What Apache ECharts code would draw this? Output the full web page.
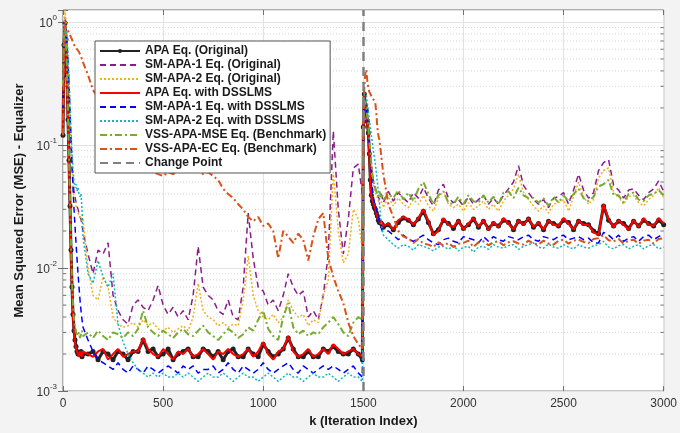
<!DOCTYPE html>
<html>
<head>
<meta charset="utf-8">
<script src="https://cdn.jsdelivr.net/npm/echarts@6/dist/echarts.min.js"></script>
<style>
  html, body { margin: 0; padding: 0; background: #f3f3f3; }
  #chart { width: 680px; height: 433px; }
</style>
</head>
<body>
<div id="chart"></div>
<script>
// iteration grid: fine steps around the two transients, coarser elsewhere
var kSegments = [[0, 100, 5], [125, 1475, 25], [1495, 1495, 1], [1500, 1600, 5], [1625, 3000, 25]];
var changePoint = 1500;

// MSE values, in units of 1e-4
// each array: k=0..100 (21) | k=125..1475 + 1495 (56) | k=1500..1600 (21) | k=1625..3000 (56)
var apaOrig = [
  1200, 6500, 9800, 7200, 3700, 1600, 750, 320, 140, 70, 42, 31, 26, 23, 21, 20, 20, 20, 21, 19, 20,
  20, 21, 18, 21, 20, 18, 21, 20, 18, 21,
  21, 26, 21, 22, 19, 20, 22, 18, 20, 21,
  22, 19, 19, 22, 21, 19, 21, 18, 21, 22,
  19, 19, 22, 20, 19, 24, 21, 19, 20, 22,
  27, 22, 19, 19, 21, 19, 19, 22, 21, 23,
  21, 20, 20, 22, 20, 18,
  1400, 2600, 2100, 1900, 1550, 1250, 850, 520, 390, 350, 330, 310, 300, 280, 265, 245, 235, 235, 230, 225, 215,
  225, 205, 235, 255, 245, 225, 250, 290, 235, 190,
  205, 245, 230, 210, 240, 210, 225, 250, 215, 240,
  210, 230, 220, 245, 235, 205, 240, 230, 250, 215,
  230, 205, 240, 230, 220, 245, 235, 205, 240, 230,
  225, 200, 190, 320, 245, 220, 240, 230, 210, 240,
  220, 245, 230, 220, 245, 225
];
var smApa1Orig = [
  3000, 9000, 11000, 9500, 7000, 4500, 2800, 1700, 1000, 700, 500, 420, 380, 340, 320, 300, 280, 260, 250, 220, 200,
  130, 90, 140, 130, 160, 60, 45, 38, 35, 50,
  55, 48, 45, 55, 72, 50, 42, 48, 40, 45,
  38, 60, 150, 70, 60, 55, 45, 42, 55, 40,
  38, 70, 280, 120, 70, 65, 50, 55, 45, 60,
  90, 70, 60, 65, 40, 45, 38, 60, 130, 1300,
  300, 130, 250, 650, 700, 400,
  1500, 2400, 2200, 2000, 1700, 1400, 1100, 850, 700, 580, 520, 480, 440, 420, 400, 380, 360, 380, 400, 370, 340,
  420, 350, 410, 370, 340, 410, 370, 450, 370, 320,
  430, 480, 370, 340, 360, 320, 380, 330, 360, 390,
  330, 370, 330, 390, 440, 500, 680, 470, 410, 360,
  330, 360, 310, 370, 380, 410, 330, 430, 580, 430,
  370, 410, 620, 720, 760, 470, 430, 370, 430, 440,
  390, 360, 410, 440, 510, 420
];
var smApa2Orig = [
  3000, 10000, 12500, 10000, 7000, 4500, 2800, 1700, 1000, 650, 450, 380, 340, 320, 300, 280, 270, 260, 250, 240, 250,
  100, 60, 55, 85, 70, 40, 35, 33, 34, 36,
  33, 38, 34, 36, 32, 31, 33, 30, 32, 34,
  31, 40, 75, 45, 40, 38, 34, 36, 33, 35,
  34, 55, 125, 60, 45, 40, 38, 42, 36, 40,
  55, 45, 40, 42, 34, 38, 36, 60, 80, 600,
  200, 110, 130, 300, 250, 140,
  1400, 2300, 2100, 1900, 1600, 1300, 1000, 800, 650, 540, 480, 440, 410, 390, 370, 350, 330, 350, 360, 340, 310,
  380, 320, 370, 330, 310, 360, 330, 390, 320, 290,
  370, 420, 330, 310, 330, 290, 340, 300, 320, 350,
  300, 330, 290, 350, 390, 440, 580, 410, 360, 320,
  290, 320, 280, 330, 340, 360, 290, 380, 500, 380,
  330, 360, 540, 620, 650, 410, 380, 330, 380, 390,
  340, 320, 360, 390, 450, 370
];
var apaDss = [
  1200, 6000, 9500, 7000, 3500, 1500, 700, 300, 130, 65, 40, 30, 25, 22, 21, 20, 19, 21, 20, 19, 21,
  20, 19, 21, 22, 18, 20, 22, 19, 20, 21,
  21, 27, 22, 20, 19, 22, 20, 18, 21, 20,
  22, 19, 20, 22, 20, 18, 21, 20, 22, 20,
  19, 20, 22, 19, 21, 25, 20, 18, 21, 22,
  28, 21, 19, 20, 22, 19, 20, 22, 20, 24,
  22, 20, 21, 22, 20, 19,
  1500, 2500, 2000, 1800, 1500, 1200, 800, 500, 380, 360, 340, 320, 300, 290, 260, 250, 240, 230, 240, 230, 220,
  230, 205, 245, 260, 250, 225, 255, 300, 240, 185,
  200, 255, 225, 215, 245, 205, 230, 255, 215, 245,
  205, 235, 215, 255, 230, 205, 245, 225, 255, 215,
  235, 205, 245, 225, 220, 255, 230, 205, 245, 225,
  225, 195, 185, 330, 250, 215, 245, 225, 205, 245,
  215, 255, 225, 220, 255, 230
];
var smApa1Dss = [
  2000, 7000, 9000, 8500, 6500, 4500, 3000, 1800, 1100, 700, 450, 300, 220, 160, 120, 90, 70, 55, 45, 38, 33,
  26, 21, 18, 17, 16, 15, 17, 15, 14, 16,
  15, 14, 16, 15, 14, 15, 16, 15, 14, 16,
  15, 16, 14, 15, 15, 16, 14, 15, 17, 15,
  14, 16, 15, 14, 15, 17, 15, 14, 15, 16,
  17, 15, 14, 16, 15, 14, 15, 16, 15, 16,
  15, 14, 15, 16, 14, 13,
  1500, 2300, 2100, 1900, 1600, 1300, 1000, 800, 600, 450, 380, 340, 320, 300, 280, 260, 240, 220, 210, 200, 195,
  200, 185, 170, 185, 170, 165, 175, 185, 170, 160,
  155, 170, 175, 165, 160, 180, 175, 170, 160, 180,
  165, 180, 170, 165, 180, 175, 170, 180, 185, 170,
  165, 180, 175, 170, 180, 185, 170, 175, 180, 170,
  175, 160, 160, 195, 185, 170, 185, 165, 175, 180,
  165, 180, 185, 170, 180, 190
];
var smApa2Dss = [
  3000, 8000, 9500, 9000, 7500, 5500, 3500, 2200, 1300, 900, 650, 500, 450, 480, 420, 450, 400, 380, 400, 300, 180,
  90, 75, 115, 85, 70, 90, 35, 25, 20, 17,
  15, 14, 13, 14, 13, 14, 13, 13, 14, 13,
  14, 13, 12, 13, 14, 13, 13, 14, 13, 12,
  13, 14, 13, 13, 12, 13, 14, 13, 12, 13,
  14, 13, 13, 12, 13, 14, 13, 13, 14, 13,
  12, 13, 14, 13, 13, 12,
  1800, 2700, 2800, 2500, 2200, 1900, 1600, 1400, 1200, 1050, 900, 800, 700, 600, 500, 420, 350, 280, 230, 200, 185,
  170, 155, 145, 155, 150, 140, 155, 150, 145, 138,
  148, 150, 142, 152, 138, 148, 150, 135, 148, 150,
  142, 155, 148, 145, 152, 155, 142, 150, 155, 160,
  148, 145, 157, 148, 145, 155, 148, 143, 155, 148,
  145, 152, 155, 165, 148, 143, 152, 155, 143, 150,
  155, 143, 152, 155, 143, 148
];
var vssMse = [
  3000, 8000, 9000, 7000, 4000, 1800, 800, 350, 150, 80, 50, 38, 33, 30, 29, 28, 30, 27, 29, 31, 28,
  30, 27, 31, 28, 26, 30, 29, 27, 30, 28,
  32, 45, 33, 30, 28, 31, 29, 27, 30, 32,
  29, 28, 31, 34, 30, 28, 26, 29, 32, 30,
  27, 29, 33, 31, 38, 45, 32, 28, 26, 40,
  52, 33, 29, 31, 28, 30, 29, 33, 36, 40,
  35, 30, 28, 36, 40, 38,
  1500, 2300, 2200, 2000, 1700, 1400, 1100, 900, 700, 600, 500, 480, 450, 420, 400, 380, 420, 400, 370, 390, 360,
  400, 370, 430, 360, 410, 350, 440, 500, 400, 330,
  390, 420, 340, 330, 380, 330, 390, 350, 340, 390,
  340, 380, 330, 410, 420, 370, 450, 390, 370, 370,
  340, 370, 320, 380, 340, 390, 350, 400, 440, 370,
  350, 380, 460, 480, 520, 390, 390, 340, 400, 410,
  360, 350, 390, 400, 430, 390
];
var vssEc = [
  1200, 8500, 9300, 9100, 8800, 8500, 8200, 7900, 7500, 7200, 6800, 6600, 6300, 6100, 6000, 5800, 5700, 5500, 5200, 5000, 4700,
  3700, 2800, 2400, 2100, 1800, 1550, 1350, 1150, 1000, 880,
  780, 700, 640, 600, 580, 560, 600, 580, 620, 640,
  600, 660, 620, 580, 600, 560, 520, 440, 400, 370,
  330, 300, 260, 240, 260, 220, 230, 200, 120, 200,
  180, 160, 190, 170, 115, 180, 250, 280, 120, 85,
  65, 52, 36, 28, 24, 22,
  1500, 3000, 3800, 4100, 3300, 2900, 2700, 2600, 2500, 2400, 2400, 2300, 2200, 1800, 1400, 1200, 1100, 950, 800, 680, 580,
  330, 260, 200, 180, 175, 160, 172, 158, 155, 148,
  162, 152, 160, 148, 157, 160, 167, 148, 162, 165,
  153, 162, 165, 153, 162, 165, 158, 155, 167, 158,
  155, 167, 158, 155, 167, 170, 158, 167, 170, 163,
  160, 172, 175, 185, 168, 165, 172, 158, 167, 170,
  158, 167, 170, 158, 172, 175
];

var yMin = 0.001, yMax = 1.25;

var k = [];
kSegments.forEach(function (s) {
  for (var v = s[0]; v <= s[1]; v += s[2]) k.push(v);
});

// minor log positions 2..9 per decade (for dotted grid + inner ticks)
var minorTicks = [];
[0.001, 0.01, 0.1].forEach(function (d) {
  for (var m = 2; m <= 9; m++) minorTicks.push(m * d);
});

function pairs(vals) {
  return k.map(function (x, i) { return [x, vals[i] * 1e-4]; });
}

var font = 'Liberation Sans, Arial, Helvetica, sans-serif';
var frameColor = '#6e6e6e';

function lineSeries(name, vals, color, width, type) {
  return {
    name: name, type: 'line', data: pairs(vals), symbol: 'none', color: color,
    lineStyle: { color: color, width: width, type: type }, z: 3
  };
}

var series = [
  {
    name: 'APA Eq. (Original)', type: 'line', data: pairs(apaOrig), color: '#222',
    symbol: 'circle', symbolSize: 5, showSymbol: true,
    itemStyle: { color: '#222' }, lineStyle: { color: '#222', width: 3 }, z: 2
  },
  lineSeries('SM-APA-1 Eq. (Original)', smApa1Orig, '#8b1c8b', 1.5, [6, 4]),
  lineSeries('SM-APA-2 Eq. (Original)', smApa2Orig, '#f0b020', 1.5, [2, 2]),
  lineSeries('APA Eq. with DSSLMS', apaDss, '#ff0000', 2, 'solid'),
  lineSeries('SM-APA-1 Eq. with DSSLMS', smApa1Dss, '#0000ff', 1.5, [6, 4]),
  lineSeries('SM-APA-2 Eq. with DSSLMS', smApa2Dss, '#12b4bf', 1.5, [2, 2]),
  lineSeries('VSS-APA-MSE Eq. (Benchmark)', vssMse, '#77ac30', 2, [7, 3, 2, 3]),
  lineSeries('VSS-APA-EC Eq. (Benchmark)', vssEc, '#d95319', 2, [7, 3, 2, 3]),
  {
    name: 'Change Point', type: 'line', data: [], symbol: 'none', color: '#808080',
    lineStyle: { color: '#808080', width: 2, type: [8, 5] },
    markLine: {
      silent: true, symbol: 'none', label: { show: false },
      lineStyle: { color: '#808080', width: 2.5, type: [9, 6] },
      data: [{ xAxis: changePoint }]
    },
    z: 4
  },
  {
    type: 'custom', silent: true, z: 1,
    data: minorTicks.map(function (v) { return [0, v]; }),
    renderItem: function (params, api) {
      var y = api.coord([0, api.value(1)])[1];
      var x0 = params.coordSys.x, x1 = x0 + params.coordSys.width;
      return {
        type: 'group', children: [
          { type: 'line', shape: { x1: x0, y1: y, x2: x1, y2: y }, style: { stroke: '#d6d6d6', lineWidth: 1, lineDash: [1, 2] } },
          { type: 'line', shape: { x1: x0, y1: y, x2: x0 + 3, y2: y }, style: { stroke: frameColor, lineWidth: 1 } },
          { type: 'line', shape: { x1: x1 - 3, y1: y, x2: x1, y2: y }, style: { stroke: frameColor, lineWidth: 1 } }
        ]
      };
    }
  }
];

var legendData = series.slice(0, 9).map(function (s, i) {
  return i === 0 ? { name: s.name, itemStyle: { opacity: 1 } } : { name: s.name };
});

var option = {
  animation: false,
  backgroundColor: '#f3f3f3',
  textStyle: { fontFamily: font },
  grid: {
    left: 63, right: 14, top: 10, bottom: 40,
    show: true, backgroundColor: '#ffffff', borderColor: frameColor, borderWidth: 1
  },
  legend: {
    data: legendData,
    orient: 'vertical', left: 95, top: 41,
    backgroundColor: '#ffffff', borderColor: '#555', borderWidth: 1, borderRadius: 0,
    padding: [4, 4, 4, 4], itemWidth: 40, itemHeight: 5, itemGap: 2,
    itemStyle: { opacity: 0 },
    textStyle: { fontFamily: font, fontSize: 12, fontWeight: 'bold', color: '#1a1a1a', lineHeight: 12 }
  },
  xAxis: [
    {
      type: 'value', min: 0, max: 3000, interval: 500, position: 'bottom',
      name: 'k (Iteration Index)', nameLocation: 'middle', nameGap: 23,
      nameTextStyle: { fontFamily: font, fontSize: 13, fontWeight: 'bold', color: '#1a1a1a' },
      axisLine: { show: false },
      axisTick: { inside: true, length: 5, lineStyle: { color: frameColor } },
      axisLabel: {
        fontFamily: font, fontSize: 12, color: '#333', margin: 7,
        formatter: function (v) { return String(v); }
      },
      splitLine: { show: true, lineStyle: { color: '#e2e2e2' } }
    },
    {
      type: 'value', min: 0, max: 3000, interval: 500, position: 'top',
      axisLine: { show: false },
      axisTick: { inside: true, length: 5, lineStyle: { color: frameColor } },
      axisLabel: { show: false }, splitLine: { show: false }
    }
  ],
  yAxis: [
    {
      type: 'log', logBase: 10, min: yMin, max: yMax, position: 'left',
      name: 'Mean Squared Error (MSE) - Equalizer', nameLocation: 'middle', nameGap: 34, nameRotate: 90,
      nameTextStyle: { fontFamily: font, fontSize: 13, fontWeight: 'bold', color: '#1a1a1a' },
      axisLine: { show: false },
      axisTick: { inside: true, length: 5, lineStyle: { color: frameColor } },
      axisLabel: {
        margin: 6, color: '#333', fontFamily: font,
        formatter: function (v) {
          var lg = Math.log(v) / Math.LN10, e = Math.round(lg);
          if (Math.abs(lg - e) > 1e-6) return '';
          return '{b|10}{s|' + e + '}';
        },
        rich: {
          b: { fontFamily: font, fontSize: 12, color: '#333', lineHeight: 16, verticalAlign: 'bottom' },
          s: { fontFamily: font, fontSize: 8, color: '#333', lineHeight: 16, verticalAlign: 'top' }
        }
      },
      splitLine: { show: true, lineStyle: { color: '#e2e2e2' } }
    },
    {
      type: 'log', logBase: 10, min: yMin, max: yMax, position: 'right',
      axisLine: { show: false },
      axisTick: { inside: true, length: 5, lineStyle: { color: frameColor } },
      axisLabel: { show: false }, splitLine: { show: false }
    }
  ],
  series: series
};

var chart = echarts.init(document.getElementById('chart'));
chart.setOption(option);
</script>
</body>
</html>
